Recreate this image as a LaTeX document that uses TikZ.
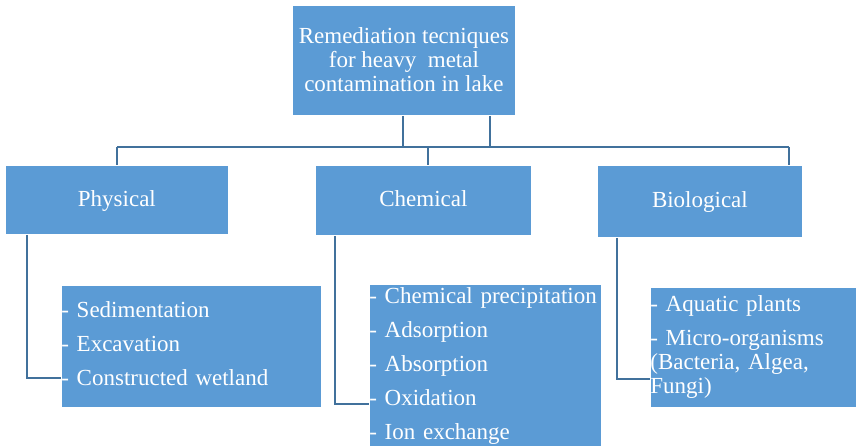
\documentclass[tikz,border=0pt]{standalone}
\usepackage{fontspec}
\setmainfont{Liberation Serif}
\usepackage{xcolor}
\usetikzlibrary{positioning, calc}

\definecolor{boxblue}{HTML}{5B9BD5}
\definecolor{lineblue}{HTML}{41719C}

\begin{document}
\begin{tikzpicture}[
        x=1pt, y=-1pt,
        % Common look of every box
        box/.style={draw=white, line width=0.8pt, fill=boxblue, text=white,
            font=\fontsize{23}{24}\selectfont, inner sep=0pt, anchor=north west},
        topic/.style={box, align=center, text depth=2pt},
        branch/.style={box, align=center, text height=17pt, text depth=4pt},
        itemlist/.style={box, align=left},
        link/.style={draw=lineblue, line width=1.9pt}
    ]
    \useasboundingbox (0,0) rectangle (856,446);

    % --- Main topic ---
    \node[topic, minimum width=223pt, minimum height=110pt] (top) at (292,5)
        {Remediation tecniques\\for heavy\ \ metal\\contamination in lake};

    % --- Three branches ---
    \node[branch, minimum width=223pt, minimum height=69pt] (phys) at (5,165) {Physical};
    \node[branch, minimum width=216pt, minimum height=70pt] (chem) at (315,165) {Chemical};
    \node[branch, minimum width=205pt, minimum height=72pt] (bio) at (597,165) {Biological};

    % --- Lists of techniques ---
    \node[itemlist, text width=260pt, minimum height=122pt] (physlist) at (61,285)
        {\strut- Sedimentation\\[10pt]- Excavation\\[10pt]- Constructed wetland\strut};
    \node[itemlist, text width=232pt, minimum height=164pt] (chemlist) at (369,284)
        {\strut- Chemical precipitation\\[10pt]- Adsorption\\[10pt]- Absorption\\[10pt]- Oxidation\\[10pt]- Ion exchange\strut};
    \node[itemlist, text width=210pt, minimum height=120pt] (biolist) at (650,287)
        {\strut- Aquatic plants\\[10pt]- Micro-organisms\\(Bacteria, Algea,\\Fungi)\strut};

    % --- Connectors ---
    \coordinate (busL) at (117,147);
    \coordinate (busA) at (403,147);
    \coordinate (busC) at (428,147);
    \coordinate (busB) at (490,147);
    \coordinate (busR) at (789,147);
    \draw[link] (busL) -- (busR);
    \draw[link] (busA |- top.south) -- (busA);
    \draw[link] (busB |- top.south) -- (busB);
    \draw[link] (busL) -- (busL |- phys.north);
    \draw[link] (busC) -- (busC |- chem.north);
    \draw[link] (busR) -- (busR |- bio.north);

    \coordinate (physdrop) at (27,378);
    \coordinate (chemdrop) at (335,404);
    \coordinate (biodrop) at (617,379);
    \draw[link] (physdrop |- phys.south) -- (physdrop) -- (physdrop -| physlist.west);
    \draw[link] (chemdrop |- chem.south) -- (chemdrop) -- (chemdrop -| chemlist.west);
    \draw[link] (biodrop |- bio.south) -- (biodrop) -- (biodrop -| biolist.west);

\end{tikzpicture}
\end{document}
